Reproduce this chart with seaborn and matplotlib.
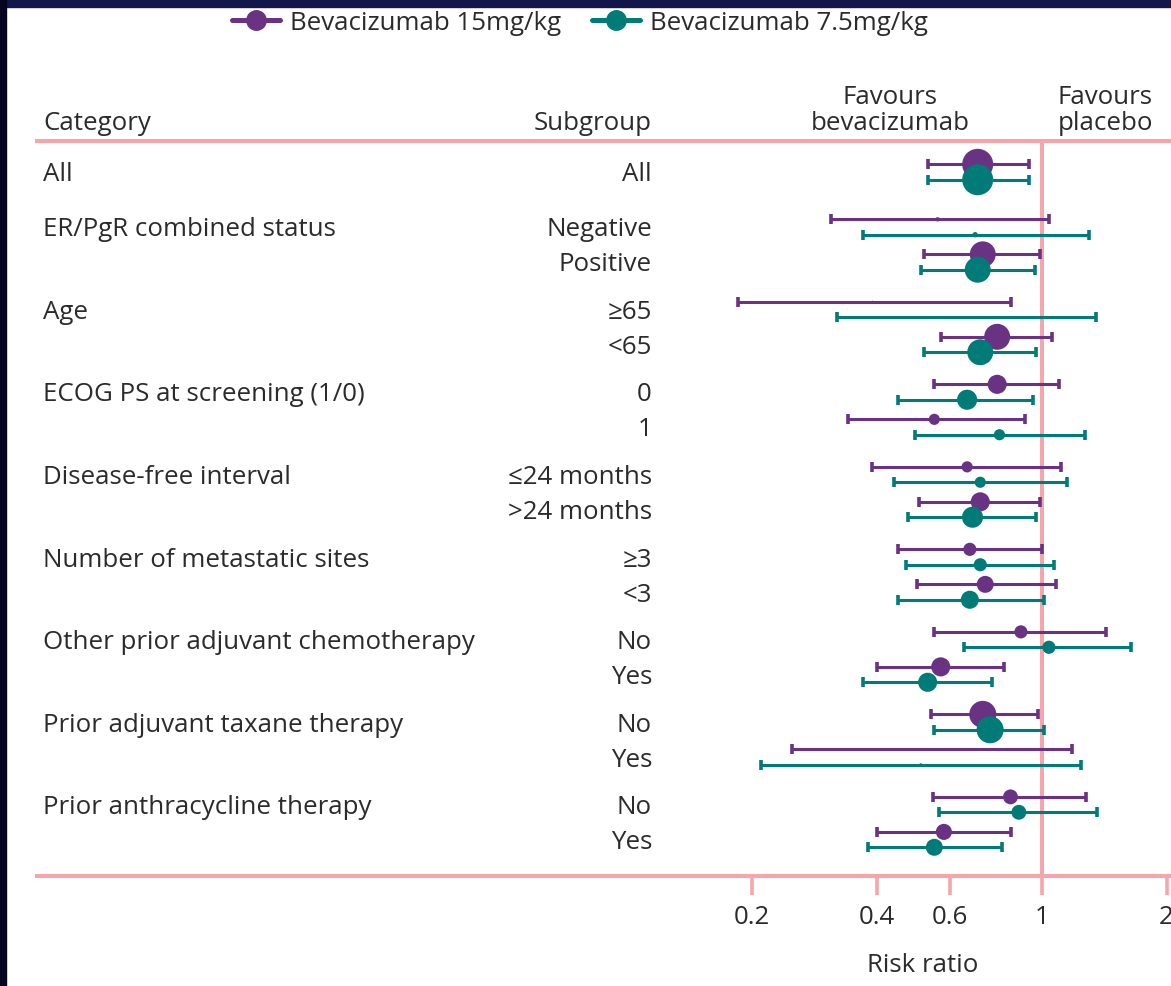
import numpy as np
import pandas as pd
import matplotlib
matplotlib.use("Agg")
import matplotlib.pyplot as plt
from matplotlib.lines import Line2D
from matplotlib.patches import Rectangle
import seaborn as sns

# ---- data -------------------------------------------------------------
categories = ["All", "ER/PgR combined status", "Age", "ECOG PS at screening (1/0)",
              "Disease-free interval", "Number of metastatic sites",
              "Other prior adjuvant chemotherapy", "Prior adjuvant taxane therapy",
              "Prior anthracycline therapy"]
subgroups = [["All"], ["Negative", "Positive"], ["\u226565", "<65"], ["0", "1"],
             ["\u226424 months", ">24 months"], ["\u22653", "<3"], ["No", "Yes"],
             ["No", "Yes"], ["No", "Yes"]]
arms = ["Bevacizumab 15mg/kg", "Bevacizumab 7.5mg/kg"]

rr_15 = [0.70, 0.56, 0.72, 0.39, 0.78, 0.78, 0.55, 0.66, 0.71, 0.67, 0.73, 0.89, 0.57, 0.72, 0.54, 0.84, 0.58]
lo_15 = [0.53, 0.31, 0.52, 0.185, 0.57, 0.55, 0.34, 0.39, 0.505, 0.45, 0.50, 0.55, 0.40, 0.54, 0.25, 0.545, 0.40]
hi_15 = [0.93, 1.04, 0.99, 0.84, 1.06, 1.10, 0.91, 1.11, 0.99, 1.00, 1.08, 1.43, 0.81, 0.98, 1.18, 1.28, 0.84]
wt_15 = [100, 2, 70, 0.5, 70, 38, 13, 13, 38, 18, 30, 18, 38, 76, 0.7, 23, 27]

rr_75 = [0.70, 0.69, 0.70, 0.65, 0.71, 0.66, 0.79, 0.71, 0.68, 0.71, 0.67, 1.04, 0.53, 0.75, 0.51, 0.88, 0.55]
lo_75 = [0.53, 0.37, 0.51, 0.32, 0.52, 0.45, 0.495, 0.44, 0.475, 0.47, 0.45, 0.65, 0.37, 0.55, 0.21, 0.565, 0.38]
hi_75 = [0.93, 1.30, 0.96, 1.35, 0.97, 0.95, 1.27, 1.15, 0.97, 1.07, 1.01, 1.64, 0.76, 1.01, 1.24, 1.36, 0.80]
wt_75 = [100, 3, 70, 0.7, 70, 42, 13, 13, 46, 18, 34, 18, 38, 76, 1, 23, 30]

xticks = [0.2, 0.4, 0.6, 1, 2]
xtick_labels = ["0.2", "0.4", "0.6", "1", "2"]

# ---- styling ----------------------------------------------------------
sns.set_theme(style="white")
FONT = ["Open Sans", "DejaVu Sans"]
plt.rcParams["font.family"] = FONT
TXT = "#2b2b2b"
PINK = "#f6a5aa"
PURPLE = "#693283"
TEAL = "#007b78"
FS = 18.6

# ---- layout of rows: one unit per subgroup row, wider gap between categories
row_y, cat_y = [], []
y = 0.0
for i, subs in enumerate(subgroups):
    if i == 1:
        y += 1.571
    elif i > 1:
        y += 2.357 - 1
    cat_y.append(y)
    for j, s in enumerate(subs):
        if j > 0:
            y += 1
        row_y.append(y)
row_y = np.array(row_y)
flat_sub = [s for subs in subgroups for s in subs]

offset = 0.22
df = pd.concat([
    pd.DataFrame({"arm": arms[0], "rr": rr_15, "lo": lo_15, "hi": hi_15,
                  "weight": wt_15, "y": row_y - offset}),
    pd.DataFrame({"arm": arms[1], "rr": rr_75, "lo": lo_75, "hi": hi_75,
                  "weight": wt_75, "y": row_y + offset}),
], ignore_index=True)

W, H = 1171, 986
AX_TOP, AX_BOT, AX_LEFT = 141, 876, 37
AX_H = AX_BOT - AX_TOP
fig = plt.figure(figsize=(W / 100, H / 100), dpi=100)
ax = fig.add_axes([AX_LEFT / W, 1 - AX_BOT / H, (W - AX_LEFT) / W, AX_H / H])

palette = {arms[0]: PURPLE, arms[1]: TEAL}
for arm in arms:
    d = df[df["arm"] == arm]
    ax.errorbar(d["rr"], d["y"], xerr=[d["rr"] - d["lo"], d["hi"] - d["rr"]],
                fmt="none", ecolor=palette[arm], elinewidth=2.2,
                capsize=3.6, capthick=2.6, zorder=3)
    smax = (0.72 * 31) ** 2
    sns.scatterplot(data=d, x="rr", y="y", hue="arm", palette=palette,
                    size="weight", sizes=(0, smax), size_norm=(0, 100),
                    linewidth=0, legend=False, ax=ax, zorder=4)

ax.set_xscale("log")
ax.set_xlim(0.00375, 2.05)
ax.set_ylim(20.11, -0.886)
ax.axvline(1, color=PINK, lw=2.9, zorder=1)

for side in ["left", "right"]:
    ax.spines[side].set_visible(False)
for side in ["top", "bottom"]:
    ax.spines[side].set_color(PINK)
    ax.spines[side].set_linewidth(2.9)

ax.set_xticks(xticks)
ax.set_xticklabels(xtick_labels)
ax.xaxis.set_minor_locator(matplotlib.ticker.NullLocator())
ax.tick_params(axis="x", bottom=True, length=14, width=2.6, color=PINK,
               labelsize=FS, labelcolor=TXT, pad=7)
ax.set_yticks([])
ax.set_xlabel("")
ax.set_ylabel("")

# text rows: baseline sits about half a cap height below the row centre
BASE = 0.27
trans = ax.get_yaxis_transform()
x_cat = (43 - AX_LEFT) / (W - AX_LEFT)
x_sub = (652 - AX_LEFT) / (W - AX_LEFT)
for name, yy in zip(categories, cat_y):
    ax.text(x_cat, yy + BASE, name, transform=trans, ha="left", va="baseline",
            fontsize=FS, color=TXT)
for name, yy in zip(flat_sub, row_y):
    ax.text(x_sub, yy + BASE, name, transform=trans, ha="right", va="baseline",
            fontsize=FS, color=TXT)


def fig_y(px):
    """Axes-fraction y for a pixel row measured from the top of the figure."""
    return (AX_BOT - px) / AX_H


def fig_x(px):
    return (px - AX_LEFT) / (W - AX_LEFT)


# column headers above the top rule
ax.text(x_cat, fig_y(130.5), "Category", transform=ax.transAxes, ha="left",
        va="baseline", fontsize=FS, color=TXT)
ax.text(x_sub, fig_y(130.5), "Subgroup", transform=ax.transAxes, ha="right",
        va="baseline", fontsize=FS, color=TXT)
for cx, words in [(890, ("Favours", "bevacizumab")), (1105, ("Favours", "placebo"))]:
    ax.text(fig_x(cx), fig_y(103.5), words[0], transform=ax.transAxes,
            ha="center", va="baseline", fontsize=FS, color=TXT)
    ax.text(fig_x(cx), fig_y(130.5), words[1], transform=ax.transAxes,
            ha="center", va="baseline", fontsize=FS, color=TXT)

ax.text(fig_x(923), fig_y(972.5), "Risk ratio", transform=ax.transAxes,
        ha="center", va="baseline", fontsize=FS, color=TXT)

handles = [Line2D([0], [0], color=palette[a], lw=3.6, marker="o", markersize=14)
           for a in arms]
fig.legend(handles, arms, loc="center", bbox_to_anchor=(580 / W, 1 - 23 / H),
           ncol=2, frameon=False, fontsize=FS, handlelength=1.85,
           handletextpad=0.4, columnspacing=1.2, labelcolor=TXT)

# dark frame strips along the top and left edges
fig.patches.append(Rectangle((0, 1 - 7 / H), 1, 7 / H, transform=fig.transFigure,
                             color="#13164a", zorder=10))
fig.patches.append(Rectangle((0, 0), 6 / W, 1, transform=fig.transFigure,
                             color="#05051f", zorder=11))

fig.savefig("out.png", dpi=100)
